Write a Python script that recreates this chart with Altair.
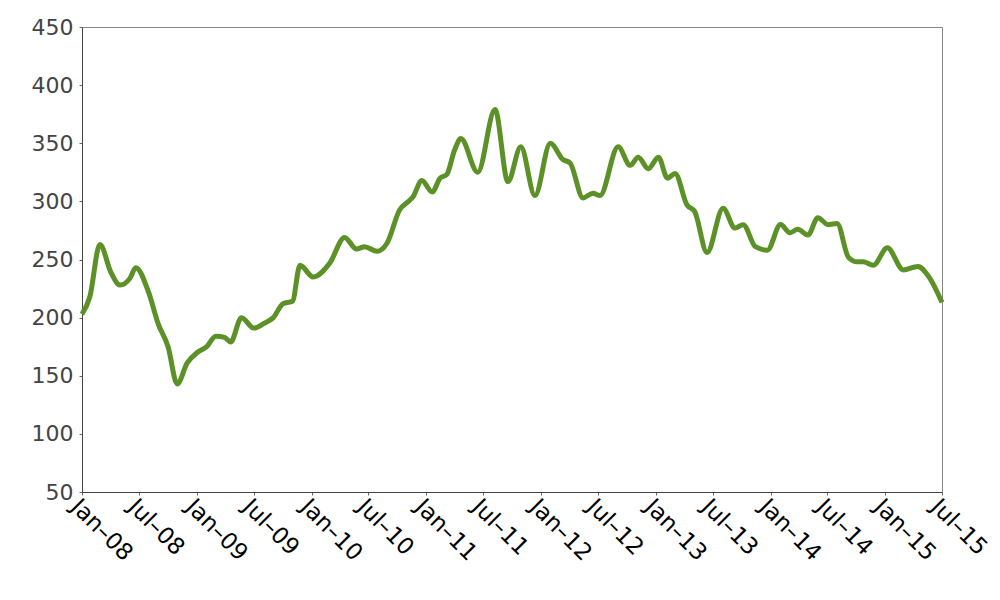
import altair as alt
import pandas as pd

dates = [
    "2008-01-01", "2008-01-26", "2008-02-27", "2008-04-02", "2008-05-01", "2008-06-02",
    "2008-06-20", "2008-08-01", "2008-08-30", "2008-10-01", "2008-10-30", "2008-12-01",
    "2009-01-02", "2009-02-01", "2009-03-02", "2009-03-30", "2009-04-18", "2009-05-23",
    "2009-07-01", "2009-08-02", "2009-09-01", "2009-10-02", "2009-11-01", "2009-11-25",
    "2010-01-06", "2010-02-28", "2010-04-16", "2010-05-24", "2010-06-19", "2010-07-28",
    "2010-08-29", "2010-10-09", "2010-11-01", "2010-11-20", "2010-12-18", "2011-01-20",
    "2011-02-14", "2011-03-07", "2011-04-01", "2011-04-21", "2011-06-14", "2011-08-08",
    "2011-09-18", "2011-10-29", "2011-12-13", "2012-01-31", "2012-03-11", "2012-04-03",
    "2012-05-14", "2012-06-15", "2012-07-07", "2012-09-03", "2012-10-11", "2012-11-06",
    "2012-12-08", "2013-01-09", "2013-02-07", "2013-03-03", "2013-04-10", "2013-05-05",
    "2013-06-13", "2013-08-03", "2013-09-10", "2013-10-06", "2013-11-14", "2013-12-22",
    "2014-02-02", "2014-03-04", "2014-03-29", "2014-04-30", "2014-06-01", "2014-07-03",
    "2014-08-01", "2014-09-06", "2014-10-04", "2014-10-23", "2014-11-24", "2015-01-08",
    "2015-02-28", "2015-04-15", "2015-05-23", "2015-07-01",
]
values = [
    203, 218, 263, 239, 228, 234,
    243, 221, 195, 175, 143, 161,
    170, 175, 184, 183, 179, 200,
    191, 195, 200, 212, 214, 245,
    235, 247, 269, 259, 261, 257,
    264, 293, 299, 304, 318, 308,
    320, 323, 344, 354, 325, 379,
    317, 347, 305, 350, 336, 333,
    303, 307, 305, 347, 331, 338,
    328, 338, 320, 324, 297, 291,
    256, 294, 277, 280, 261, 258,
    280, 273, 276, 271, 286, 280,
    281, 252, 248, 248, 245, 260,
    241, 244, 234, 213,
]
tick_dates = [
    "2008-01-01", "2008-07-01", "2009-01-01", "2009-07-01", "2010-01-01", "2010-07-01",
    "2011-01-01", "2011-07-01", "2012-01-01", "2012-07-01", "2013-01-01", "2013-07-01",
    "2014-01-01", "2014-07-01", "2015-01-01", "2015-07-01",
]
y_ticks = [50, 100, 150, 200, 250, 300, 350, 400, 450]

df = pd.DataFrame({"date": dates, "value": values})

tick_vals = [alt.DateTime(year=int(d[:4]), month=int(d[5:7]), date=1) for d in tick_dates]

chart = alt.Chart(df).mark_line(
    color="#5b9127", strokeWidth=5, interpolate="monotone"
).encode(
    x=alt.X(
        "date:T",
        scale=alt.Scale(domain=[alt.DateTime(year=2008, month=1, date=1),
                                alt.DateTime(year=2015, month=7, date=1)]),
        axis=alt.Axis(
            values=tick_vals, format="%b–%y", labelAngle=45, labelAlign="left",
            labelBaseline="top", labelFontSize=23, labelColor="#000000",
            labelFont="DejaVu Sans", tickSize=3, tickColor="#666666",
            domainColor="#444444", grid=False, title=None, labelPadding=0,
            labelOverlap=False,
        ),
    ),
    y=alt.Y(
        "value:Q",
        scale=alt.Scale(domain=[50, 450], nice=False),
        axis=alt.Axis(
            values=y_ticks, labelFontSize=22, labelColor="#444444",
            labelFont="DejaVu Sans", tickSize=3, tickColor="#666666",
            domainColor="#444444", grid=False, title=None, labelPadding=6,
        ),
    ),
).properties(
    width=860,
    height=465,
    autosize=alt.AutoSizeParams(type="none"),
    padding={"left": 74, "top": 19, "right": 50, "bottom": 80},
).configure_view(
    stroke="#888888", strokeWidth=1
)

chart.save("out.html", embed_options={"renderer": "svg", "actions": False})
